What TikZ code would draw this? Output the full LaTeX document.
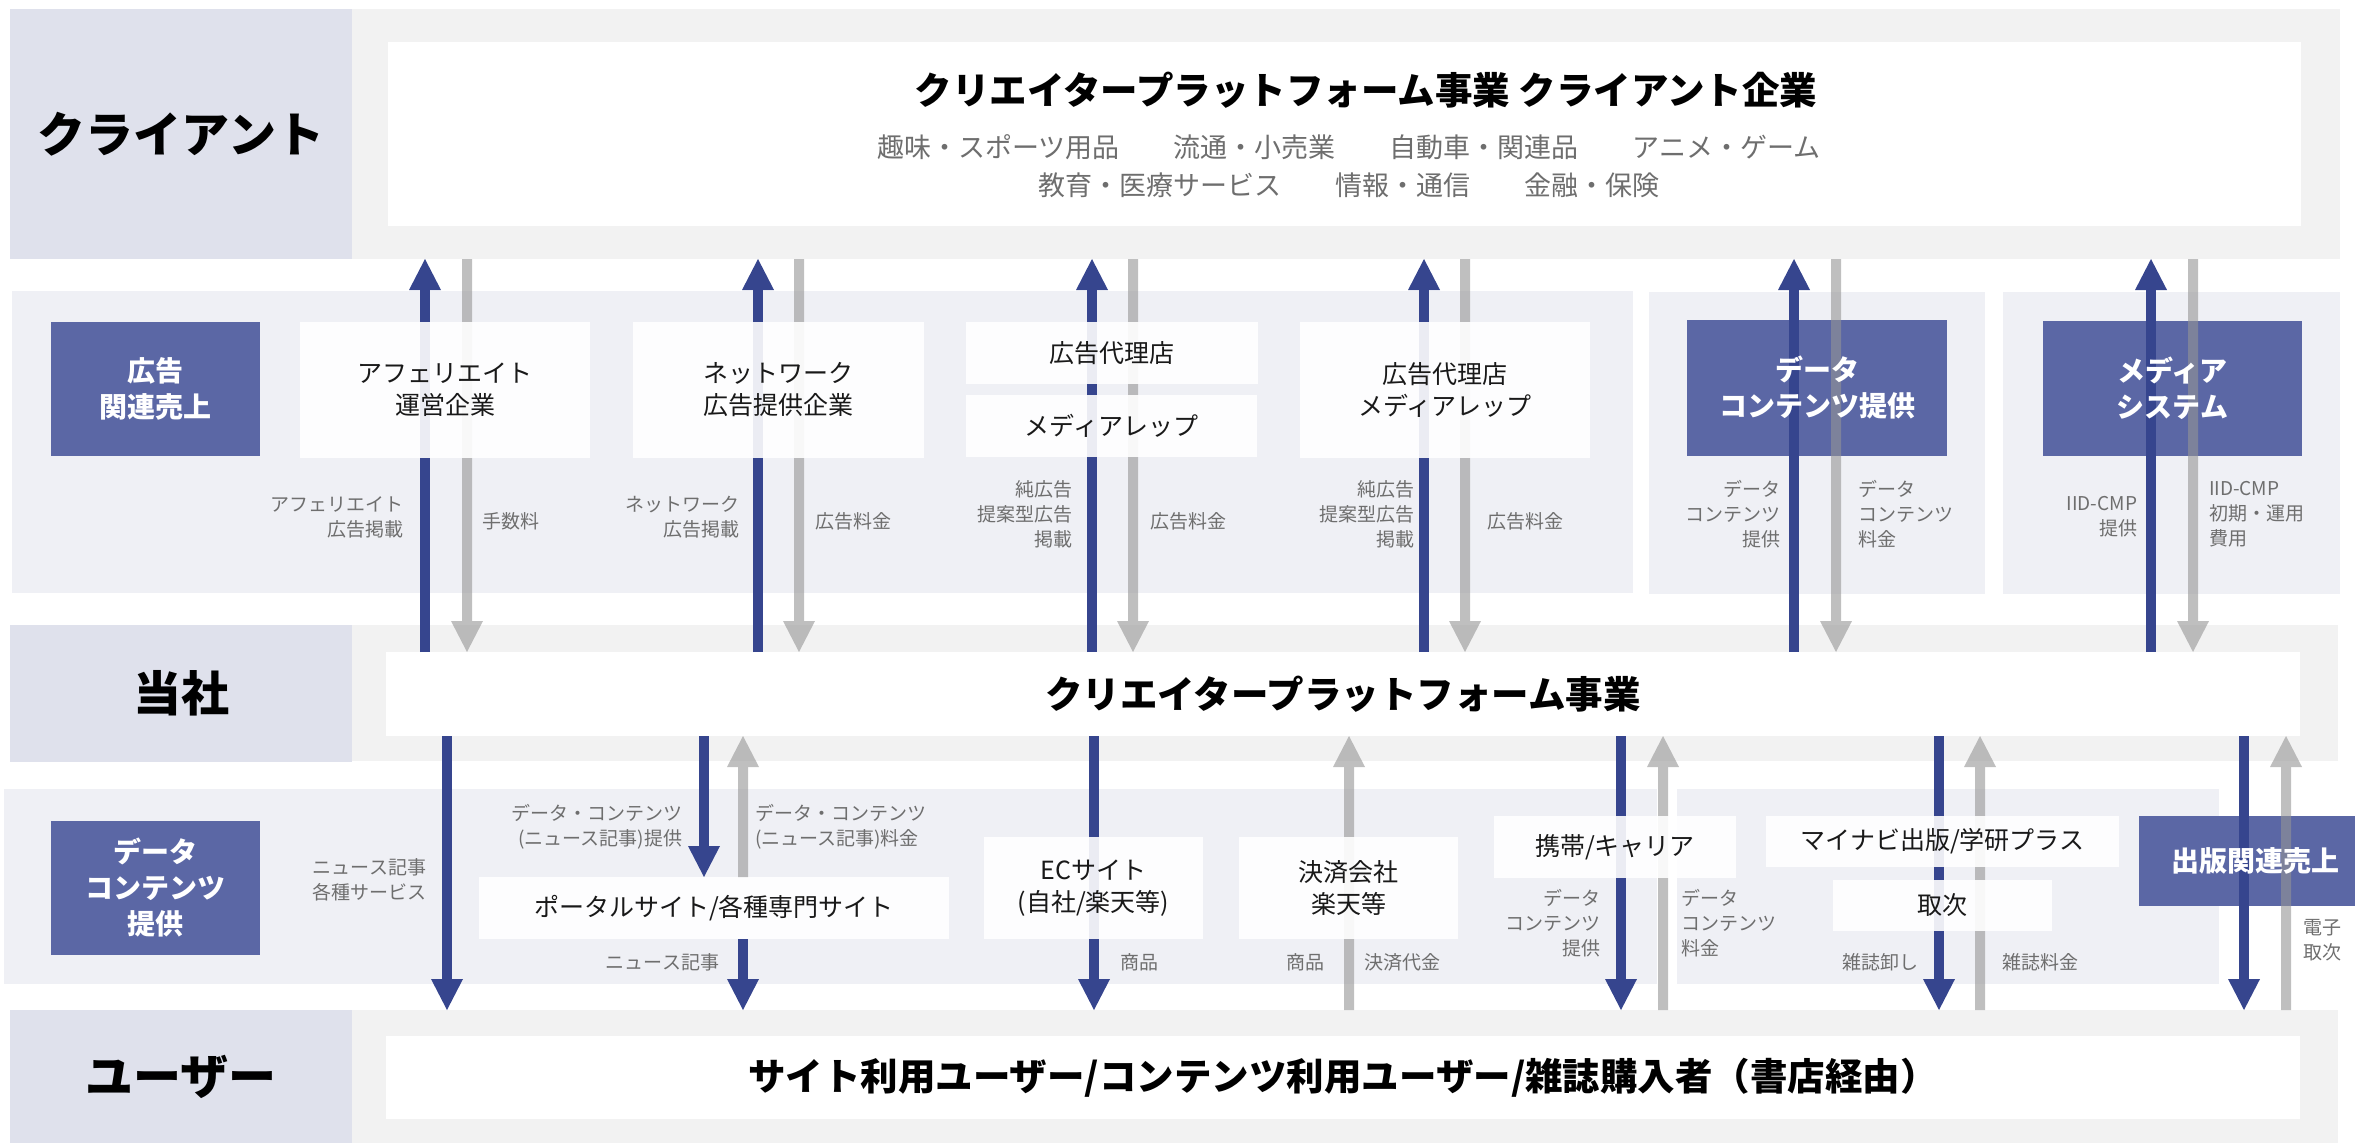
\documentclass[tikz,border=0pt]{standalone}
\usepackage{fontspec}
\setmainfont{Noto Sans CJK JP}
\usetikzlibrary{arrows.meta}
\definecolor{lavender}{HTML}{DFE1EC}
\definecolor{bandgray}{HTML}{F2F2F2}
\definecolor{paleband}{HTML}{EFF0F5}
\definecolor{boxblue}{HTML}{5B67A5}
\definecolor{arrowblue}{HTML}{36458E}
\definecolor{arrowgray}{HTML}{959595}
\definecolor{notegray}{HTML}{6E6E6E}
\begin{document}
\begin{tikzpicture}[x=1pt,y=-1pt,
  every node/.append style={inner sep=0pt, outer sep=0pt},
  area/.style={anchor=north west, fill=#1},
  rowlabel/.style={area=lavender, font=\fontsize{48}{56}\selectfont\bfseries},
  bluebox/.style={area=boxblue},
  bluetext/.style={text=white, align=center, font=\fontsize{28}{36}\selectfont\bfseries},
  whitebox/.style={area=white, fill opacity=0.9, text opacity=1, align=center, text=black!90, font=\fontsize{25}{32}\selectfont},
  headline/.style={font=\fontsize{37.5}{44}\selectfont\bfseries},
  subline/.style={text=notegray, font=\fontsize{27}{36}\selectfont},
  notel/.style={anchor=east, align=right, text=notegray, font=\fontsize{19}{25}\selectfont},
  noter/.style={anchor=west, align=left, text=notegray, font=\fontsize{19}{25}\selectfont},
  flow/.style={draw=#1, line width=10pt, -{Triangle[length=31pt, width=32pt, line width=0pt]}}]
\useasboundingbox (0,0) rectangle (2355,1143);
% client row
\node[rowlabel, minimum width=342pt, minimum height=250pt] (clientlbl) at (10,9) {クライアント};
\node[area=bandgray, minimum width=1988pt, minimum height=250pt] (clientband) at (352,9) {};
\node[area=white, minimum width=1913pt, minimum height=184pt] (clientbox) at (388,42) {};
\node[headline] (clienttitle) at (1366,90) {クリエイタープラットフォーム事業 クライアント企業};
\node[subline] (clientsub1) at (1349,147) {趣味・スポーツ用品\hspace{2em}流通・小売業\hspace{2em}自動車・関連品\hspace{2em}アニメ・ゲーム};
\node[subline] (clientsub2) at (1349,185) {教育・医療サービス\hspace{2em}情報・通信\hspace{2em}金融・保険};
% ad row
\node[area=paleband, minimum width=1621pt, minimum height=302pt] (adband) at (12,291) {};
\node[area=paleband, minimum width=336pt, minimum height=302pt] (databand) at (1649,292) {};
\node[area=paleband, minimum width=337pt, minimum height=302pt] (mediaband) at (2003,292) {};
\node[bluebox, minimum width=209pt, minimum height=134pt] (adlbl) at (51,322) {};
\node[bluebox, minimum width=260pt, minimum height=136pt] (datalbl) at (1687,320) {};
\node[bluebox, minimum width=259pt, minimum height=135pt] (medialbl) at (2043,321) {};
% company row
\node[rowlabel, minimum width=342pt, minimum height=137pt] (companylbl) at (10,625) {当社};
\node[area=bandgray, minimum width=1986pt, minimum height=136pt] (companyband) at (352,625) {};
\node[area=white, headline, minimum width=1914pt, minimum height=84pt] (company) at (386,652) {クリエイタープラットフォーム事業};
% data row
\node[area=paleband, minimum width=1653pt, minimum height=195pt] (contentband) at (4,789) {};
\node[area=paleband, minimum width=542pt, minimum height=195pt] (pubband) at (1677,789) {};
\node[bluebox, minimum width=209pt, minimum height=134pt] (contentlbl) at (51,821) {};
\node[bluebox, minimum width=216pt, minimum height=90pt] (publbl) at (2139,816) {};
\node[whitebox, minimum width=470pt, minimum height=62pt] (portal) at (479,877) {ポータルサイト/各種専門サイト};
% user row
\node[rowlabel, minimum width=342pt, minimum height=133pt] (userlbl) at (10,1010) {ユーザー};
\node[area=bandgray, minimum width=1986pt, minimum height=133pt] (userband) at (352,1010) {};
\node[area=white, headline, minimum width=1914pt, minimum height=83pt] (users) at (386,1036) {サイト利用ユーザー/コンテンツ利用ユーザー/雑誌購入者（書店経由）};
% flows up to the clients
\draw[flow=arrowblue] (425,0 |- company.north) -- (425,0 |- clientband.south);
\draw[flow=arrowblue] (758,0 |- company.north) -- (758,0 |- clientband.south);
\draw[flow=arrowblue] (1092,0 |- company.north) -- (1092,0 |- clientband.south);
\draw[flow=arrowblue] (1424,0 |- company.north) -- (1424,0 |- clientband.south);
\draw[flow=arrowblue] (1794,0 |- company.north) -- (1794,0 |- clientband.south);
\draw[flow=arrowblue] (2151,0 |- company.north) -- (2151,0 |- clientband.south);
% flows down to the users
\draw[flow=arrowblue] (447,0 |- company.south) -- (447,0 |- userband.north);
\draw[flow=arrowblue] (704,0 |- company.south) -- (704,0 |- portal.north);
\draw[flow=arrowblue] (743,0 |- portal.south) -- (743,0 |- userband.north);
\draw[flow=arrowblue] (1094,0 |- company.south) -- (1094,0 |- userband.north);
\draw[flow=arrowblue] (1621,0 |- company.south) -- (1621,0 |- userband.north);
\draw[flow=arrowblue] (1939,0 |- company.south) -- (1939,0 |- userband.north);
\draw[flow=arrowblue] (2244,0 |- company.south) -- (2244,0 |- userband.north);
% money flows
\begin{scope}[transparency group, opacity=0.6]
\draw[flow=arrowgray] (467,0 |- clientband.south) -- (467,0 |- company.north);
\draw[flow=arrowgray] (799,0 |- clientband.south) -- (799,0 |- company.north);
\draw[flow=arrowgray] (1133,0 |- clientband.south) -- (1133,0 |- company.north);
\draw[flow=arrowgray] (1465,0 |- clientband.south) -- (1465,0 |- company.north);
\draw[flow=arrowgray] (1836,0 |- clientband.south) -- (1836,0 |- company.north);
\draw[flow=arrowgray] (2193,0 |- clientband.south) -- (2193,0 |- company.north);
\draw[flow=arrowgray] (743,0 |- portal.north) -- (743,0 |- company.south);
\draw[flow=arrowgray] (1349,0 |- userband.north) -- (1349,0 |- company.south);
\draw[flow=arrowgray] (1663,0 |- userband.north) -- (1663,0 |- company.south);
\draw[flow=arrowgray] (1980,0 |- userband.north) -- (1980,0 |- company.south);
\draw[flow=arrowgray] (2286,0 |- userband.north) -- (2286,0 |- company.south);
\end{scope}
% sales labels
\node[bluetext] (adlbltext) at (adlbl.center) {広告\\関連売上};
\node[bluetext] (datalbltext) at (datalbl.center) {データ\\コンテンツ提供};
\node[bluetext] (medialbltext) at (medialbl.center) {メディア\\システム};
\node[bluetext] (contentlbltext) at (contentlbl.center) {データ\\コンテンツ\\提供};
\node[bluetext] (publbltext) at ([xshift=8pt]publbl.center) {出版関連売上};
% partners
\node[whitebox, minimum width=290pt, minimum height=136pt] (affil) at (300,322) {アフェリエイト\\運営企業};
\node[whitebox, minimum width=291pt, minimum height=136pt] (network) at (633,322) {ネットワーク\\広告提供企業};
\node[whitebox, minimum width=292pt, minimum height=62pt] (agency) at (966,322) {広告代理店};
\node[whitebox, minimum width=291pt, minimum height=62pt] (mediarep) at (966,395) {メディアレップ};
\node[whitebox, minimum width=290pt, minimum height=136pt] (agencyrep) at (1300,322) {広告代理店\\メディアレップ};
\node[whitebox, minimum width=219pt, minimum height=102pt] (ecsite) at (984,837) {ECサイト\\(自社/楽天等)};
\node[whitebox, minimum width=219pt, minimum height=102pt] (payment) at (1239,837) {決済会社\\楽天等};
\node[whitebox, minimum width=242pt, minimum height=62pt] (carrier) at (1494,816) {携帯/キャリア};
\node[whitebox, minimum width=353pt, minimum height=51pt] (mynavi) at (1766,816) {マイナビ出版/学研プラス};
\node[whitebox, minimum width=219pt, minimum height=51pt] (toritsugi) at (1833,880) {取次};
% flow notes
\node[notel] (n1a) at (403,517) {アフェリエイト\\広告掲載};
\node[noter] (n1b) at (482,521) {手数料};
\node[notel] (n2a) at (739,517) {ネットワーク\\広告掲載};
\node[noter] (n2b) at (815,521) {広告料金};
\node[notel] (n3a) at (1072,514) {純広告\\提案型広告\\掲載};
\node[noter] (n3b) at (1150,521) {広告料金};
\node[notel] (n4a) at (1414,514) {純広告\\提案型広告\\掲載};
\node[noter] (n4b) at (1487,521) {広告料金};
\node[notel] (n5a) at (1780,514) {データ\\コンテンツ\\提供};
\node[noter] (n5b) at (1858,514) {データ\\コンテンツ\\料金};
\node[notel] (n6a) at (2137,517) {IID-CMP\\提供};
\node[noter] (n6b) at (2209,514) {IID-CMP\\初期・運用\\費用};
\node[notel] (m1) at (426,880) {ニュース記事\\各種サービス};
\node[notel] (m2a) at (682,827) {データ・コンテンツ\\(ニュース記事)提供};
\node[noter] (m2b) at (755,827) {データ・コンテンツ\\(ニュース記事)料金};
\node[notel] (m3) at (719,962) {ニュース記事};
\node[noter] (m4) at (1120,962) {商品};
\node[notel] (m5a) at (1324,962) {商品};
\node[noter] (m5b) at (1364,962) {決済代金};
\node[notel] (m6a) at (1600,923) {データ\\コンテンツ\\提供};
\node[noter] (m6b) at (1681,923) {データ\\コンテンツ\\料金};
\node[notel] (m7a) at (1918,962) {雑誌卸し};
\node[noter] (m7b) at (2002,962) {雑誌料金};
\node[noter] (m8) at (2303,940) {電子\\取次};
\end{tikzpicture}
\end{document}
